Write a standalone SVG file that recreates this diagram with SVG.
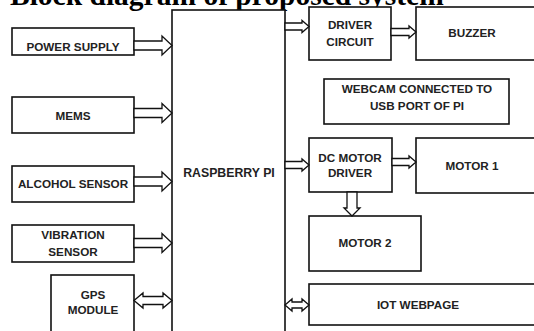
<svg xmlns="http://www.w3.org/2000/svg" width="534" height="331" viewBox="0 0 534 331">
<style>
.box{fill:#fff;stroke:#111;stroke-width:1.6}
.arr{fill:#fff;stroke:#111;stroke-width:1.3;stroke-linejoin:miter}
.t{font-family:"Liberation Sans",Arial,sans-serif;font-weight:bold;font-size:11.7px;fill:#222;text-anchor:middle}
.title{font-family:"Liberation Serif","Times New Roman",serif;font-weight:bold;font-size:29.5px;fill:#000}
</style>
<rect width="534" height="331" fill="#fff"/>
<text class="title" x="10" y="5">Block diagram of proposed system</text>
<g id="rpi"><rect class="box" x="172" y="10" width="113" height="330"/><text class="t" x="229" y="177" style="font-size:12.3px">RASPBERRY PI</text></g>
<g id="power"><rect class="box" x="12" y="28" width="122" height="27"/><text class="t" x="73" y="51">POWER SUPPLY</text></g>
<g id="mems"><rect class="box" x="12" y="97" width="122" height="36"/><text class="t" x="73" y="120">MEMS</text></g>
<g id="alcohol"><rect class="box" x="12" y="166" width="122" height="36"/><text class="t" x="73" y="188">ALCOHOL SENSOR</text></g>
<g id="vibration"><rect class="box" x="12" y="225" width="122" height="37"/><text class="t" x="73" y="239">VIBRATION</text><text class="t" x="73" y="256">SENSOR</text></g>
<g id="gps"><rect class="box" x="51" y="275" width="83" height="70"/><text class="t" x="93" y="299">GPS</text><text class="t" x="93" y="314">MODULE</text></g>
<g id="driver"><rect class="box" x="309" y="7" width="82" height="53"/><text class="t" x="350" y="29">DRIVER</text><text class="t" x="350" y="46">CIRCUIT</text></g>
<g id="buzzer"><rect class="box" x="416" y="7" width="130" height="53"/><text class="t" x="472" y="37">BUZZER</text></g>
<g id="webcam"><rect class="box" x="324" y="79" width="185" height="45"/><text class="t" x="417" y="93">WEBCAM CONNECTED TO</text><text class="t" x="417" y="110">USB PORT OF PI</text></g>
<g id="dcmotor"><rect class="box" x="309" y="138" width="83" height="54"/><text class="t" x="350" y="162">DC MOTOR</text><text class="t" x="350" y="177">DRIVER</text></g>
<g id="motor1"><rect class="box" x="416" y="138" width="130" height="55"/><text class="t" x="472" y="170">MOTOR 1</text></g>
<g id="motor2"><rect class="box" x="309" y="216" width="112" height="55"/><text class="t" x="365" y="247">MOTOR 2</text></g>
<g id="iot"><rect class="box" x="309" y="284" width="237" height="41"/><text class="t" x="418" y="309">IOT WEBPAGE</text></g>
<g id="connectors">
<path class="arr" d="M134,41 H162 V36 L172,45.5 L162,55 V50 H134 Z"/>
<path class="arr" d="M134,108.5 H162 V103.5 L172,113 L162,122.5 V117.5 H134 Z"/>
<path class="arr" d="M134,177 H162 V172 L172,181.5 L162,191 V186 H134 Z"/>
<path class="arr" d="M134,238.5 H162 V233.5 L172,243 L162,252.5 V247.5 H134 Z"/>
<path class="arr" d="M134,300.5 L143,293 V296.5 H163 V293 L172,300.5 L163,308 V304.5 H143 V308 Z"/>
<path class="arr" d="M285,23 H302 V20.5 L309,26.5 L302,32.5 V30 H285 Z"/>
<path class="arr" d="M391,28.5 H409 V26 L416,32 L409,38 V35.5 H391 Z"/>
<path class="arr" d="M285,161.5 H302 V159 L309,165 L302,171 V168.5 H285 Z"/>
<path class="arr" d="M392,158.5 H409 V156 L416,162 L409,168 V165.5 H392 Z"/>
<path class="arr" d="M347,192 V208 H344 L352,216 L360,208 H357 V192 Z"/>
<path class="arr" d="M285,305 L292,299 V302 H302 V299 L309,305 L302,311 V308 H292 V311 Z"/>
</g>
</svg>
